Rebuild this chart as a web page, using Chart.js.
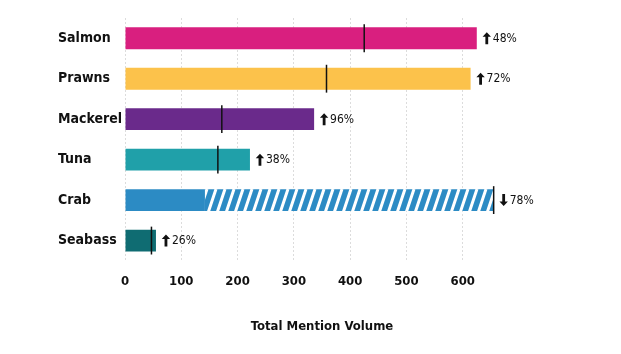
<!DOCTYPE html>
<html>
<head>
<meta charset="utf-8">
<script src="https://cdn.jsdelivr.net/npm/chart.js@4"></script>
<style>
  html, body { margin: 0; padding: 0; background: #ffffff; }
  #wrap { width: 621px; height: 354px; }
</style>
</head>
<body>
<div id="wrap"><canvas id="grafikIkan"></canvas></div>
<script>
const categories = ['Salmon', 'Prawns', 'Mackerel', 'Tuna', 'Crab', 'Seabass'];
const mentions = [625, 614, 336, 222, 142, 55];
const hatchedExtra = [0, 0, 0, 0, 513, 0];
const markers = [425, 358, 172, 165, 655, 47];
const changes = ['48%', '72%', '96%', '38%', '78%', '26%'];
const directions = ['up', 'up', 'up', 'up', 'down', 'up'];
const tickValues = [0, 100, 200, 300, 400, 500, 600];
const barColors = ['#D91F7F', '#FCC24B', '#6A2A8B', '#20A0A9', '#2C8BC4', '#0F6C72'];

const labelFont = '"DejaVu Sans Condensed", "Liberation Sans Narrow", sans-serif';

// stripes for the crab projection
function makeHatch(color) {
    const c = document.createElement('canvas');
    c.width = 9; c.height = 27;
    const g = c.getContext('2d');
    g.fillStyle = color;
    g.fillRect(0, 0, 9, 27);
    g.strokeStyle = '#ffffff';
    g.lineWidth = 3;
    for (let dx = -9; dx <= 9; dx += 9) {
        g.beginPath();
        g.moveTo(dx, 27);
        g.lineTo(dx + 9, 0);
        g.stroke();
    }
    return g.createPattern(c, 'repeat');
}

const hatch = makeHatch('#2C8BC4');

// small thick arrow, pointing up (dir = 1) or down (dir = -1)
function drawArrow(g, x, y, dir) {
    g.save();
    g.translate(x + 4, y);
    g.scale(1, dir);
    g.beginPath();
    g.moveTo(0, -6);
    g.lineTo(4.2, -1.5);
    g.lineTo(1.4, -1.5);
    g.lineTo(1.4, 6);
    g.lineTo(-1.4, 6);
    g.lineTo(-1.4, -1.5);
    g.lineTo(-4.2, -1.5);
    g.closePath();
    g.fill();
    g.restore();
}

const annotasi = {
    id: 'annotasi',
    afterDatasetsDraw(chart) {
        const g = chart.ctx;
        const x = chart.scales.x;
        const meta = chart.getDatasetMeta(0);
        g.save();
        meta.data.forEach((bar, i) => {
            const y = bar.y;
            const h = bar.height;
            // average marker line
            const mx = x.getPixelForValue(markers[i]);
            g.strokeStyle = '#111111';
            g.lineWidth = 1.5;
            g.beginPath();
            g.moveTo(mx, y - h / 2 - 3);
            g.lineTo(mx, y + h / 2 + 3);
            g.stroke();
            // change label
            const endX = x.getPixelForValue(mentions[i] + hatchedExtra[i]) + 6;
            g.fillStyle = '#111111';
            drawArrow(g, endX, y, directions[i] === 'up' ? 1 : -1);
            g.textBaseline = 'middle';
            g.textAlign = 'left';
            g.font = '12px "Liberation Sans Narrow", "DejaVu Sans Condensed", sans-serif';
            g.fillText(changes[i], endX + 10, y + 0.5);
        });
        g.restore();
    }
};

const ctx = document.getElementById('grafikIkan').getContext('2d');

const grafikIkan = new Chart(ctx, {
    type: 'bar',
    data: {
        labels: categories,
        datasets: [{
            label: 'Mentions',
            data: mentions,
            backgroundColor: barColors,
            barPercentage: 0.9,
            categoryPercentage: 0.6
        }, {
            label: 'Projected',
            data: hatchedExtra,
            backgroundColor: hatch,
            barPercentage: 0.9,
            categoryPercentage: 0.6
        }]
    },
    options: {
        indexAxis: 'y',
        responsive: true,
        maintainAspectRatio: false,
        animation: false,
        layout: {
            padding: { left: 58, right: 102, top: 18, bottom: 16 }
        },
        scales: {
            x: {
                stacked: true,
                min: 0,
                max: 700,
                afterBuildTicks: scale => {
                    scale.ticks = tickValues.map(v => ({ value: v }));
                },
                grid: {
                    color: '#dcdcdc',
                    drawTicks: false
                },
                border: { display: false, dash: [2, 2] },
                ticks: {
                    padding: 13,
                    color: '#111111',
                    font: { family: labelFont, weight: 'bold', size: 13 }
                },
                title: {
                    display: true,
                    text: 'Total Mention Volume',
                    color: '#111111',
                    padding: { top: 16 },
                    font: { family: labelFont, weight: 'bold', size: 13 }
                }
            },
            y: {
                stacked: true,
                afterFit: scale => { scale.width = 67; },
                grid: { display: false },
                border: { display: false },
                ticks: {
                    crossAlign: 'far',
                    color: '#111111',
                    font: { family: labelFont, weight: 'bold', size: 14 }
                }
            }
        },
        plugins: {
            legend: { display: false },
            tooltip: { enabled: false }
        }
    },
    plugins: [annotasi]
});
</script>
</body>
</html>
